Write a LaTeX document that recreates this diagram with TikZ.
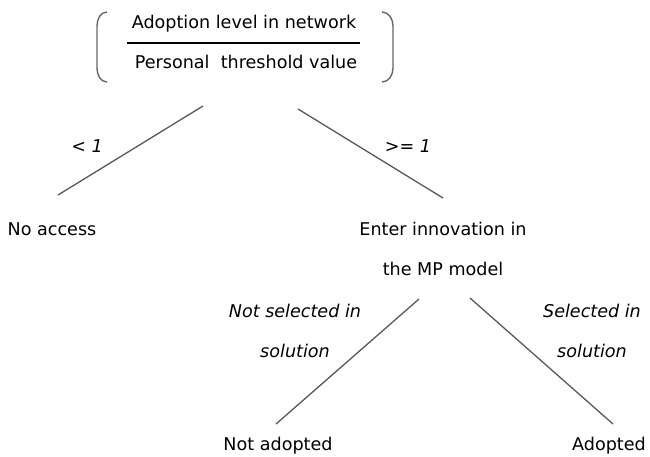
\documentclass[tikz,border=0pt]{standalone}
\usepackage{fontspec}
\setmainfont{DejaVu Sans}
\usetikzlibrary{calc,positioning}
\definecolor{edgegrey}{gray}{0.35}

\begin{document}
\begin{tikzpicture}[x=0.2mm,y=-0.2mm]

\tikzset{plain/.style={font=\fontsize{10}{22.7}\selectfont,inner sep=0pt,align=center},
cond/.style={plain,font=\fontsize{10}{22.7}\selectfont\itshape},
branch/.style={draw=edgegrey,line width=0.75pt},
paren/.style={draw=black!60,line width=0.8pt}}

\useasboundingbox (0,0) rectangle (650,456);

% Ratio on top
\node[plain,anchor=base] (level) at (244,28) {Adoption level in network};
\node[plain,anchor=base] (thresh) at (246,68) {Personal~~threshold value};
\coordinate (fracL) at (127,43); \coordinate (fracR) at (360,43);
\draw[line width=0.6pt] (fracL) -- (fracR);
\draw[paren] (107,12) to[out=180,in=90] (97,26) -- (97,68) to[out=-90,in=180] (107,82); % left bracket
\draw[paren] (382,12) to[out=0,in=90] (393,26) -- (393,68) to[out=-90,in=0] (382,82); % right bracket

% Outcomes
\node[plain,anchor=base] (noaccess) at (52,235) {No access};
\node[plain,anchor=north] (enter) at (443,222) {Enter innovation in\\the MP model};
\node[plain,anchor=base] (notadopted) at (278,450) {Not adopted};
\node[plain,anchor=base] (adopted) at (609,450) {Adopted};

% Branch ends
\coordinate (top1) at (203,106); \coordinate (end1) at (58,195);
\coordinate (top2) at (298,109); \coordinate (end2) at (443,198);
\coordinate (top3) at (419,299); \coordinate (end3) at (276,424);
\coordinate (top4) at (470,298); \coordinate (end4) at (613,424);

% Edges
\draw[branch] (top1) -- (end1); \draw[branch] (top2) -- (end2); % level 1
\draw[branch] (top3) -- (end3); \draw[branch] (top4) -- (end4); % level 2

% Conditions
\node[cond,anchor=base] (less) at (87,152) {< 1};
\node[cond,anchor=base] (geq) at (408,152) {>= 1};
\node[cond,anchor=north] (notsel) at (295,304) {Not selected in\\solution};
\node[cond,anchor=north] (sel) at (592,304) {Selected in\\solution};

\end{tikzpicture}
\end{document}
